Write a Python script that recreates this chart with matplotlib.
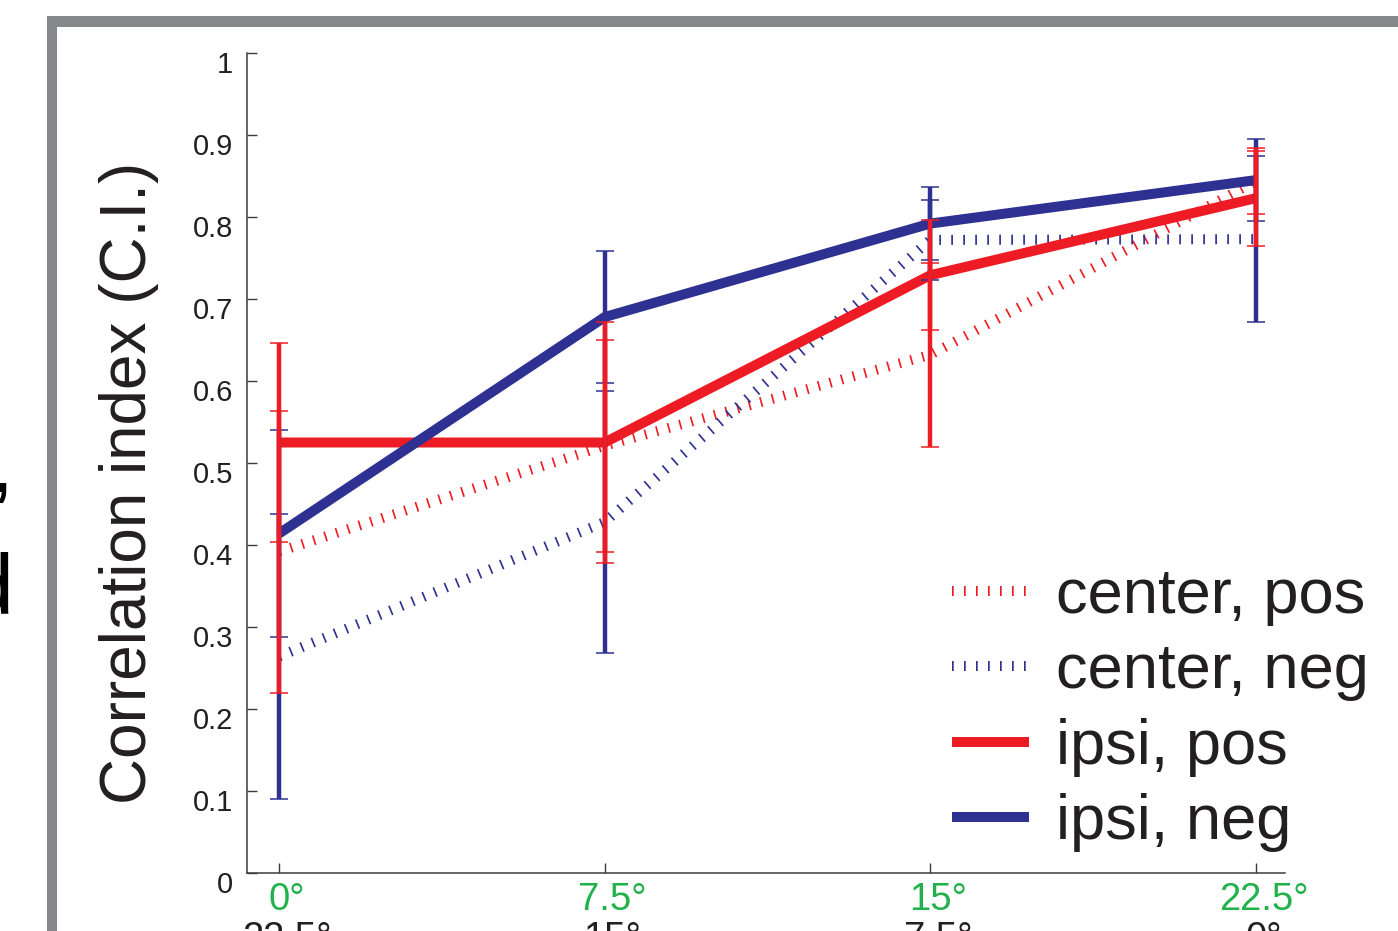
import numpy as np
import matplotlib
matplotlib.use("Agg")
import matplotlib.pyplot as plt
from matplotlib import transforms
from matplotlib.patches import Rectangle

plt.rcParams['font.family'] = ['Liberation Sans', 'DejaVu Sans']

# disparity steps (green) and the complementary ones (black, second row)
x = [0, 7.5, 15, 22.5]
xlabels = ['0°', '7.5°', '15°', '22.5°']
xlabels2 = ['22.5°', '15°', '7.5°', '0°']

center_pos = [0.392, 0.521, 0.632, 0.844]
center_pos_err = [0.172, 0.129, 0.112, 0.040]
center_neg = [0.264, 0.428, 0.772, 0.773]
center_neg_err = [0.174, 0.160, 0.049, 0.101]
ipsi_pos = [0.525, 0.525, 0.729, 0.823]
ipsi_pos_err = [0.121, 0.147, 0.067, 0.058]
ipsi_neg = [0.414, 0.678, 0.792, 0.845]
ipsi_neg_err = [0.126, 0.080, 0.045, 0.050]

yticks = [0, 0.1, 0.2, 0.3, 0.4, 0.5, 0.6, 0.7, 0.8, 0.9, 1]
ylabels = ['0', '0.1', '0.2', '0.3', '0.4', '0.5', '0.6', '0.7', '0.8', '0.9', '1']

RED = '#ED1C24'
BLUE = '#2E3192'
GREEN = '#22B24C'
GRAY = '#87888C'

W, H = 1398, 931
fig = plt.figure(figsize=(W / 100, H / 100), dpi=100)
ax = fig.add_axes([247 / W, 1 - 873 / H, (1285 - 247) / W, (873 - 53) / H])

# gray panel frame (cut at right and bottom)
fig.add_artist(Rectangle((47 / W, 1 - 27 / H), 1, 11 / H, transform=fig.transFigure,
                         facecolor=GRAY, edgecolor='none'))
fig.add_artist(Rectangle((47 / W, -0.1), 10 / W, 1.1 - 16 / H, transform=fig.transFigure,
                         facecolor=GRAY, edgecolor='none'))
# bits of the neighbouring panel's text
fig.text(13 / W, 1 - 492 / H, ',', fontsize=62, ha='right', va='baseline')
fig.text(13 / W, 1 - 613 / H, 'd', fontsize=62, ha='right', va='baseline')

lw_thick = 7.2
dots = (0, (0.17, 1.03))

l1, = ax.plot(x, center_pos, color=RED, lw=lw_thick, linestyle=dots,
              dash_capstyle='butt', label='center, pos', zorder=1)
l2, = ax.plot(x, center_neg, color=BLUE, lw=lw_thick, linestyle=dots,
              dash_capstyle='butt', label='center, neg', zorder=1)
l3, = ax.plot(x, ipsi_pos, color=RED, lw=lw_thick, solid_capstyle='butt',
              label='ipsi, pos', zorder=2)
l4, = ax.plot(x, ipsi_neg, color=BLUE, lw=lw_thick, solid_capstyle='butt',
              label='ipsi, neg', zorder=2)

eb = dict(fmt='none', elinewidth=3.2, capsize=6.8, capthick=1.1)
ax.errorbar(x, center_neg, yerr=center_neg_err, ecolor=BLUE, zorder=3, **eb)
ax.errorbar(x, ipsi_neg, yerr=ipsi_neg_err, ecolor=BLUE, zorder=3, **eb)
ax.errorbar(x, center_pos, yerr=center_pos_err, ecolor=RED, zorder=4, **eb)
ax.errorbar(x, ipsi_pos, yerr=ipsi_pos_err, ecolor=RED, zorder=4, **eb)

ax.set_xlim(-0.74, 23.17)
ax.set_ylim(0, 1)
ax.spines['top'].set_visible(False)
ax.spines['right'].set_visible(False)
for s in ['left', 'bottom']:
    ax.spines[s].set_color('#3C3C3C')
    ax.spines[s].set_linewidth(1.1)

ax.set_yticks(yticks)
ax.set_yticklabels(ylabels)
ax.set_xticks(x)
ax.set_xticklabels(xlabels)
ax.tick_params(axis='both', direction='in', length=7.2, width=1.0, color='#3C3C3C')
ax.tick_params(axis='y', labelsize=21, pad=10, labelcolor='#231F20')
ax.tick_params(axis='x', labelsize=27.5, pad=6.8, labelcolor=GREEN)

dy = transforms.ScaledTranslation(0, -9 / 100, fig.dpi_scale_trans)
for lab in ax.get_yticklabels():
    lab.set_transform(lab.get_transform() + dy)
dx = transforms.ScaledTranslation(7.5 / 100, 0, fig.dpi_scale_trans)
for lab in ax.get_xticklabels():
    lab.set_transform(lab.get_transform() + dx)

trans2 = transforms.blended_transform_factory(ax.transData, ax.transAxes) + \
    transforms.ScaledTranslation(7.5 / 100, -48 / 100, fig.dpi_scale_trans)
for xi, lab in zip(x, xlabels2):
    ax.text(xi, 0, lab, transform=trans2, ha='center', va='top',
            fontsize=27.5, color='#231F20')

ax.set_ylabel('Correlation index (C.I.)', fontsize=46, color='#231F20',
              labelpad=24, y=0.5 - 20 / 820)

ax.legend(handles=[l1, l2, l3, l4], loc='upper left',
          bbox_to_anchor=(952 / W, 1 - 567 / H), bbox_transform=fig.transFigure,
          frameon=False, fontsize=45.5, borderpad=0, borderaxespad=0,
          handlelength=1.22, handletextpad=0.42, labelspacing=0.26,
          labelcolor='#231F20')

fig.savefig('out.png', dpi=100)
